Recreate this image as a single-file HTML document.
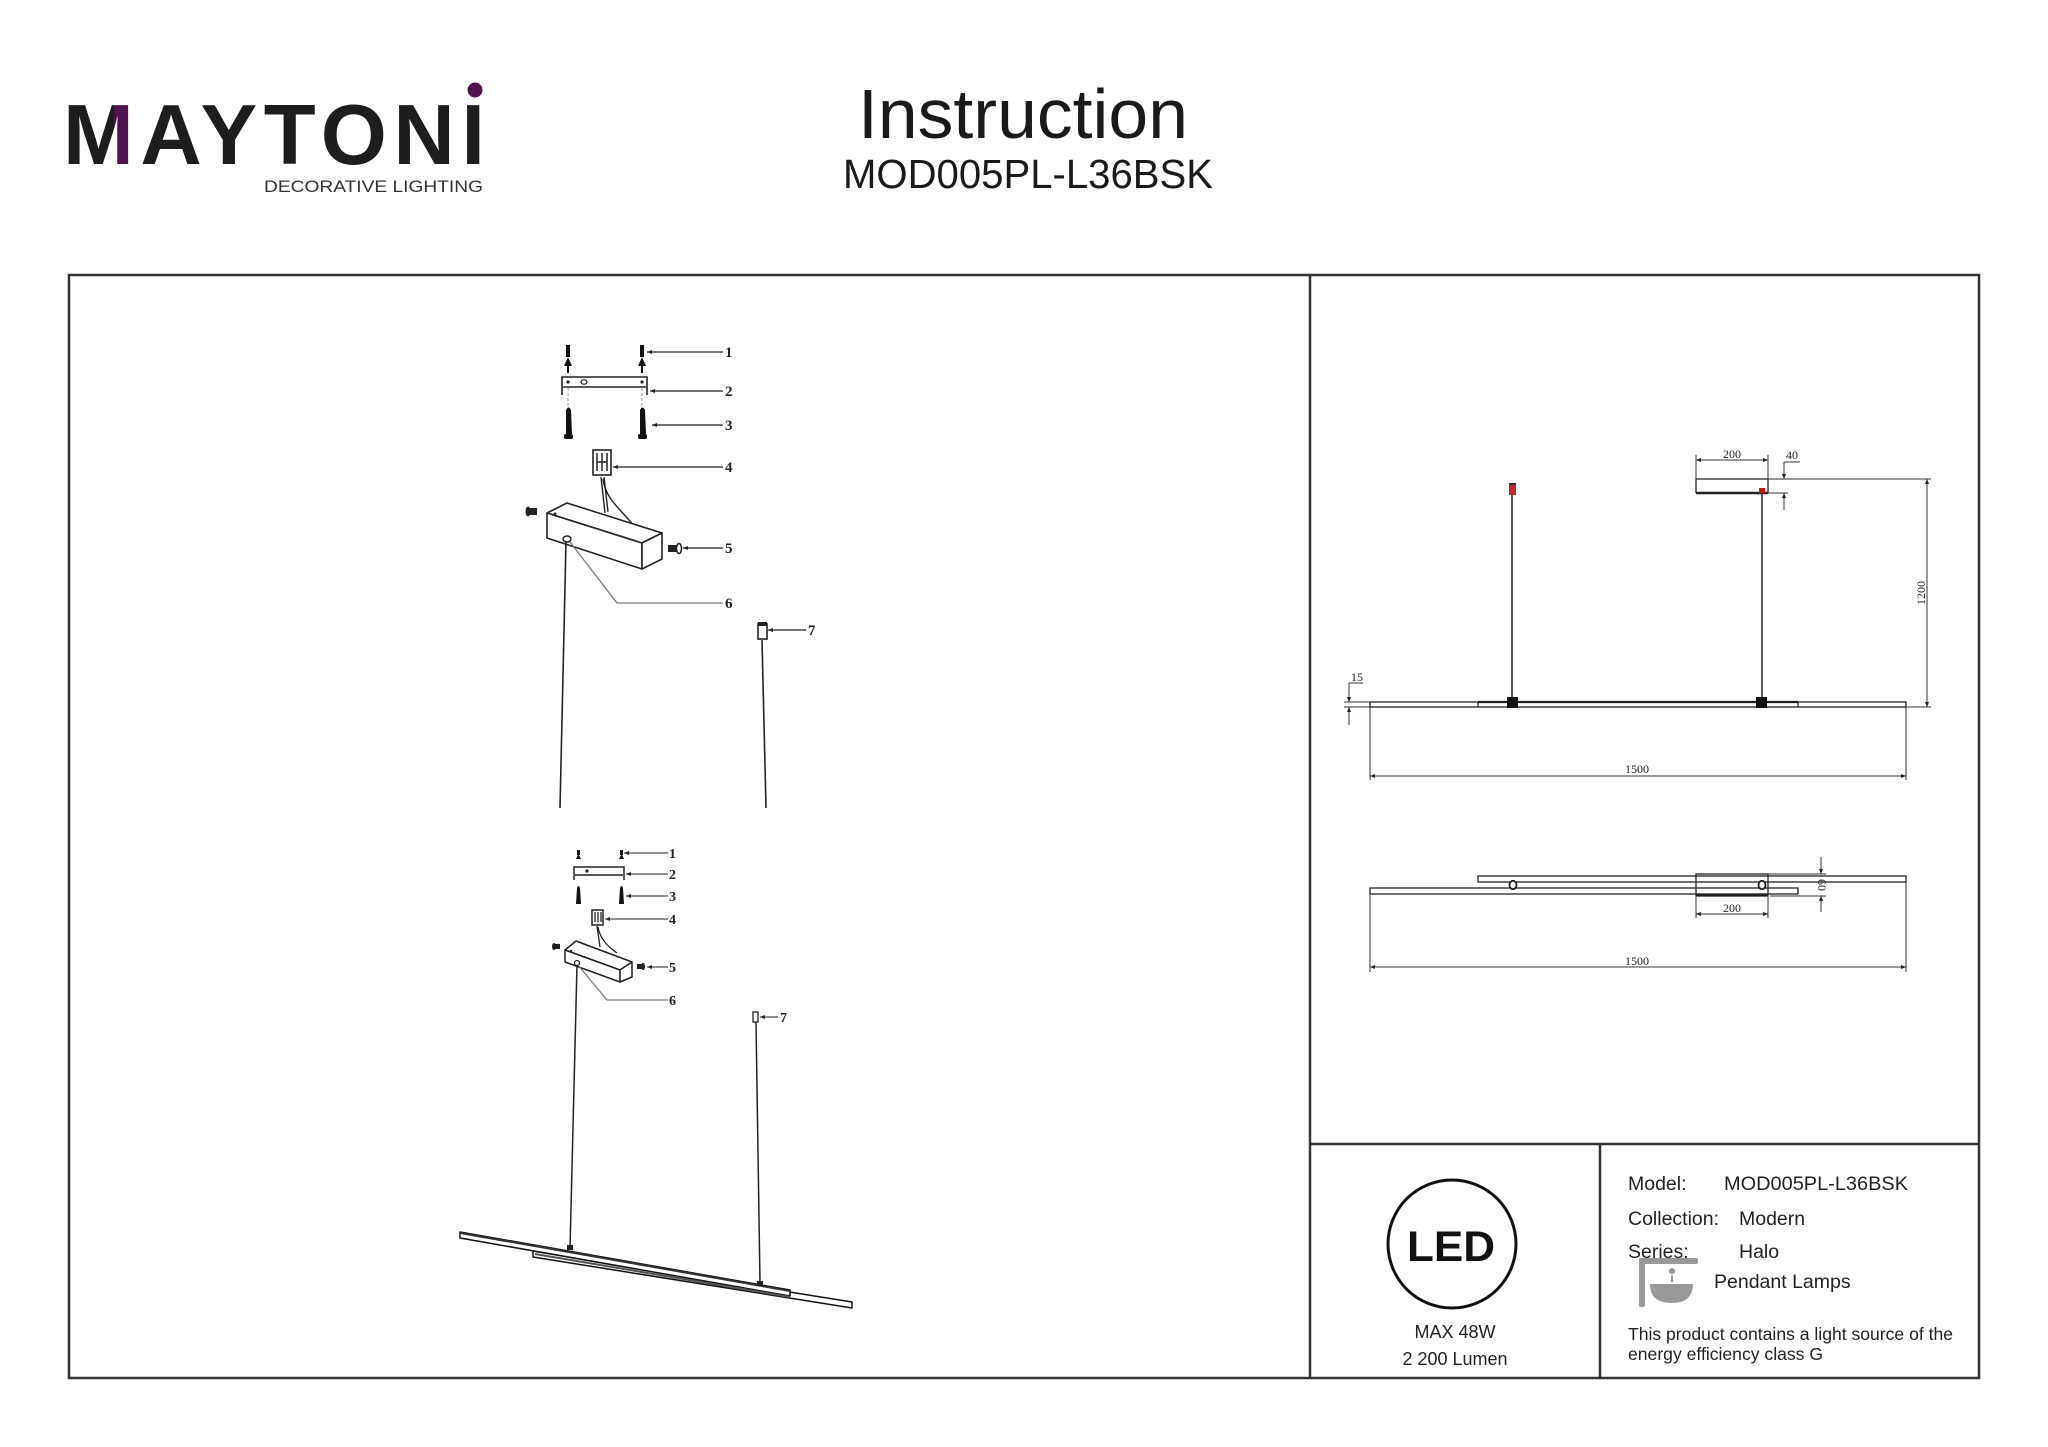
<!DOCTYPE html>
<html><head><meta charset="utf-8"><style>
html,body{margin:0;padding:0;background:#fff}
svg{display:block}
</style></head><body>
<svg width="2048" height="1447" viewBox="0 0 2048 1447" xmlns="http://www.w3.org/2000/svg">
<defs>
<marker id="ar" viewBox="0 0 10 10" refX="10" refY="5" markerWidth="8" markerHeight="5" orient="auto-start-reverse" markerUnits="userSpaceOnUse"><path d="M0,1 L10,5 L0,9 z" fill="#222"/></marker>
<marker id="ar2" viewBox="0 0 10 10" refX="10" refY="5" markerWidth="7" markerHeight="5" orient="auto-start-reverse" markerUnits="userSpaceOnUse"><path d="M0,1 L10,5 L0,9 z" fill="#222"/></marker>
<linearGradient id="mg" gradientUnits="userSpaceOnUse" x1="0" y1="0" x2="2048" y2="0">
<stop offset="0" stop-color="#1d1d1b"/><stop offset="0.0556" stop-color="#1d1d1b"/><stop offset="0.0556" stop-color="#4f1450"/><stop offset="0.0645" stop-color="#4f1450"/><stop offset="0.0645" stop-color="#1d1d1b"/><stop offset="1" stop-color="#1d1d1b"/>
</linearGradient>
</defs>
<rect width="2048" height="1447" fill="#fff"/>

<!-- Header -->
<text x="63" y="164" font-family="Liberation Sans, sans-serif" font-weight="bold" font-size="85" textLength="422" lengthAdjust="spacing" fill="url(#mg)">MAYTONI</text>
<circle cx="475" cy="90" r="7.5" fill="#4f1450"/>
<text x="264" y="192" font-family="Liberation Sans, sans-serif" font-size="16.5" textLength="219" lengthAdjust="spacingAndGlyphs" fill="#333">DECORATIVE LIGHTING</text>
<text x="858" y="138" font-family="Liberation Sans, sans-serif" font-size="70" textLength="330" lengthAdjust="spacingAndGlyphs" fill="#1a1a1a">Instruction</text>
<text x="843" y="188" font-family="Liberation Sans, sans-serif" font-size="41" textLength="370" lengthAdjust="spacingAndGlyphs" fill="#1a1a1a">MOD005PL-L36BSK</text>

<!-- Frame -->
<g stroke="#333" stroke-width="2.5" fill="none">
<rect x="69" y="275" width="1910" height="1103"/>
<line x1="1310" y1="275" x2="1310" y2="1378"/>
<line x1="1310" y1="1144" x2="1979" y2="1144"/>
<line x1="1600" y1="1144" x2="1600" y2="1378"/>
</g>

<!-- ===== Left upper exploded drawing ===== -->
<g fill="#111">
<rect x="566" y="345" width="4" height="12"/><path d="M564,366 L568,357 L572,366 Z"/><rect x="567" y="366" width="2" height="7"/>
<rect x="640" y="345" width="4" height="12"/><path d="M638,366 L642,357 L646,366 Z"/><rect x="641" y="366" width="2" height="7"/>
</g>
<g stroke="#222" stroke-width="1.6" fill="none">
<path d="M562,395 L562,377 L647,377 L647,395"/>
<line x1="563" y1="387" x2="646" y2="387"/>
</g>
<circle cx="568" cy="382" r="1.6" fill="#222"/><circle cx="642" cy="382" r="1.6" fill="#222"/>
<ellipse cx="584" cy="382" rx="3" ry="2.2" fill="none" stroke="#222" stroke-width="1.2"/>
<g stroke="#999" stroke-width="1" stroke-dasharray="3,2"><line x1="568" y1="388" x2="568" y2="407"/><line x1="642" y1="388" x2="642" y2="407"/></g>
<g fill="#111">
<path d="M566,410 Q568.5,405 571,410 L572,434 L566,434 Z"/><rect x="564" y="434" width="9" height="5" rx="2"/>
<path d="M640,410 Q642.5,405 645,410 L646,434 L640,434 Z"/><rect x="638" y="434" width="9" height="5" rx="2"/>
</g>
<rect x="593" y="450" width="18" height="25" fill="#fff" stroke="#222" stroke-width="1.6"/>
<g stroke="#222" stroke-width="1.5"><line x1="597" y1="453" x2="597" y2="471"/><line x1="602" y1="453" x2="602" y2="471"/><line x1="607" y1="453" x2="607" y2="471"/><line x1="597" y1="462" x2="607" y2="462"/></g>
<g stroke="#222" stroke-width="1.4" fill="none">
<path d="M601,477 L605,513"/><path d="M604,477 L608,512"/>
<path d="M603,479 C606,500 620,508 633,525"/>
</g>
<g stroke="#222" stroke-width="1.6" fill="#fff" stroke-linejoin="round">
<polygon points="547,513 567,503 662,533 642,543"/>
<polygon points="547,513 642,543 642,569 547,538"/>
<polygon points="642,543 662,533 662,559 642,569"/>
</g>
<circle cx="555" cy="514" r="1.5" fill="#222"/>
<ellipse cx="567" cy="539" rx="4" ry="3" fill="#fff" stroke="#222" stroke-width="1.5"/>
<g fill="#222"><rect x="528" y="508" width="9" height="7"/><ellipse cx="528" cy="511.5" rx="2.5" ry="5"/></g>
<g fill="#222"><rect x="668" y="545" width="9" height="7"/></g>
<ellipse cx="679" cy="548.5" rx="2.5" ry="5" fill="#fff" stroke="#222" stroke-width="1.5"/>
<path d="M570,542 L617,603 L723,603" stroke="#777" stroke-width="1.3" fill="none"/>
<g stroke="#222" stroke-width="1.6" fill="none">
<line x1="566" y1="542" x2="560" y2="808"/>
<line x1="762" y1="640" x2="766" y2="808"/>
</g>
<rect x="758" y="624" width="9" height="15" fill="#fff" stroke="#222" stroke-width="1.6"/>
<rect x="758" y="622" width="9" height="4" fill="#222"/>
<g stroke="#222" stroke-width="1.2">
<line x1="723" y1="352" x2="647" y2="352" marker-end="url(#ar)"/>
<line x1="723" y1="391" x2="650" y2="391" marker-end="url(#ar)"/>
<line x1="723" y1="425" x2="652" y2="425" marker-end="url(#ar)"/>
<line x1="723" y1="467" x2="613" y2="467" marker-end="url(#ar)"/>
<line x1="723" y1="548" x2="683" y2="548" marker-end="url(#ar)"/>
<line x1="806" y1="630" x2="768" y2="630" marker-end="url(#ar)"/>
</g>
<g font-family="Liberation Serif, serif" font-weight="bold" font-size="15" fill="#222">
<text x="725" y="357">1</text><text x="725" y="396">2</text><text x="725" y="430">3</text><text x="725" y="472">4</text><text x="725" y="553">5</text><text x="725" y="608">6</text><text x="808" y="635">7</text>
</g>

<!-- ===== Left lower drawing ===== -->
<g fill="#111">
<rect x="577" y="850" width="3" height="5"/><path d="M576,859 L578.5,854 L581,859 Z"/>
<rect x="620" y="850" width="3" height="5"/><path d="M619,859 L621.5,854 L624,859 Z"/>
</g>
<g stroke="#222" stroke-width="1.5" fill="none">
<path d="M574,880 L574,867 L624,867 L624,880"/>
<line x1="575" y1="875" x2="623" y2="875"/>
</g>
<circle cx="587" cy="871" r="1.6" fill="#222"/>
<g fill="#111">
<path d="M577,888 Q578.5,884 580,888 L581,904 L576,904 Z"/>
<path d="M620,888 Q621.5,884 623,888 L624,904 L619,904 Z"/>
</g>
<rect x="592" y="910" width="11" height="15" fill="#fff" stroke="#222" stroke-width="1.5"/>
<g stroke="#222" stroke-width="1.3"><line x1="595" y1="912" x2="595" y2="922"/><line x1="598" y1="912" x2="598" y2="922"/><line x1="601" y1="912" x2="601" y2="922"/></g>
<g stroke="#222" stroke-width="1.3" fill="none">
<path d="M597,926 L600,947"/><path d="M598,927 C600,940 610,948 617,953"/>
</g>
<g stroke="#222" stroke-width="1.5" fill="#fff" stroke-linejoin="round">
<polygon points="565,950 576,941 632,962 620,970"/>
<polygon points="565,950 620,970 620,982 565,962"/>
<polygon points="620,970 632,962 632,977 620,982"/>
</g>
<circle cx="571" cy="951" r="1.2" fill="#222"/>
<circle cx="577" cy="963" r="2.5" fill="#fff" stroke="#222" stroke-width="1.3"/>
<g fill="#222"><rect x="554" y="944" width="6" height="5"/><ellipse cx="554" cy="946.5" rx="2" ry="3.5"/></g>
<g fill="#222"><rect x="637" y="964" width="6" height="5"/><ellipse cx="643" cy="966.5" rx="2" ry="3.5"/></g>
<path d="M578,965 L607,1000 L668,1000" stroke="#777" stroke-width="1.2" fill="none"/>
<g stroke="#222" stroke-width="1.5" fill="none">
<line x1="577" y1="965" x2="570" y2="1249"/>
<line x1="756" y1="1022" x2="760" y2="1283"/>
</g>
<rect x="753" y="1012" width="5" height="10" fill="#fff" stroke="#222" stroke-width="1.3"/>
<g stroke="#222" stroke-width="1.1">
<line x1="668" y1="853" x2="624" y2="853" marker-end="url(#ar2)"/>
<line x1="668" y1="874" x2="626" y2="874" marker-end="url(#ar2)"/>
<line x1="668" y1="896" x2="626" y2="896" marker-end="url(#ar2)"/>
<line x1="668" y1="919" x2="605" y2="919" marker-end="url(#ar2)"/>
<line x1="668" y1="967" x2="647" y2="967" marker-end="url(#ar2)"/>
<line x1="778" y1="1017" x2="760" y2="1017" marker-end="url(#ar2)"/>
</g>
<g font-family="Liberation Serif, serif" font-weight="bold" font-size="14" fill="#222">
<text x="669" y="858">1</text><text x="669" y="879">2</text><text x="669" y="901">3</text><text x="669" y="924">4</text><text x="669" y="972">5</text><text x="669" y="1005">6</text><text x="780" y="1022">7</text>
</g>
<!-- lamp bars -->
<g stroke="#111" stroke-width="1.5" fill="#fff" stroke-linejoin="round">
<polygon points="533,1251 852,1302 852,1308 533,1257"/>
<polygon points="460,1232 790,1290 790,1296 460,1238"/>
</g>
<polygon points="460,1232 790,1290 790,1292 460,1234" fill="#333"/>
<line x1="535" y1="1254" x2="790" y2="1297" stroke="#555" stroke-width="2"/>
<rect x="567" y="1245" width="6" height="5" fill="#222"/>
<rect x="757" y="1281" width="6" height="5" fill="#222"/>

<!-- ===== Right top drawing ===== -->
<g stroke="#222" stroke-width="1.3" fill="none">
<rect x="1370" y="702" width="536" height="5" fill="#fff"/>
<line x1="1478" y1="702" x2="1478" y2="707"/>
<line x1="1798" y1="702" x2="1798" y2="707"/>
<line x1="1478" y1="702" x2="1798" y2="702" stroke-width="2.2"/>
<line x1="1512" y1="495" x2="1512" y2="698" stroke-width="1.5"/>
<line x1="1762" y1="493" x2="1762" y2="698" stroke-width="1.5"/>
<line x1="1696" y1="479" x2="1768" y2="479"/>
<line x1="1696" y1="479" x2="1696" y2="493"/>
<line x1="1768" y1="479" x2="1768" y2="493"/>
<line x1="1696" y1="493" x2="1768" y2="493" stroke-width="2.4"/>
</g>
<rect x="1509" y="483" width="7" height="12" fill="#c0282d"/>
<rect x="1509" y="483" width="7" height="2" fill="#333"/>
<rect x="1759" y="488" width="6" height="5" fill="#d01010"/>
<rect x="1507" y="697" width="11" height="11" fill="#111"/>
<rect x="1756" y="697" width="11" height="11" fill="#111"/>
<g stroke="#333" stroke-width="1">
<line x1="1696" y1="455" x2="1696" y2="479"/><line x1="1768" y1="455" x2="1768" y2="479"/>
<line x1="1696" y1="460" x2="1768" y2="460" marker-start="url(#ar2)" marker-end="url(#ar2)"/>
<line x1="1768" y1="479" x2="1931" y2="479"/>
<line x1="1768" y1="493" x2="1788" y2="493"/>
<line x1="1784" y1="462" x2="1800" y2="462"/>
<line x1="1784" y1="462" x2="1784" y2="479" marker-end="url(#ar2)"/>
<line x1="1784" y1="510" x2="1784" y2="493" marker-end="url(#ar2)"/>
<line x1="1927" y1="479" x2="1927" y2="707" marker-start="url(#ar2)" marker-end="url(#ar2)"/>
<line x1="1906" y1="707" x2="1931" y2="707"/>
<line x1="1344" y1="702" x2="1370" y2="702"/>
<line x1="1344" y1="707" x2="1370" y2="707"/>
<line x1="1349" y1="683" x2="1363" y2="683"/>
<line x1="1349" y1="683" x2="1349" y2="702" marker-end="url(#ar2)"/>
<line x1="1349" y1="725" x2="1349" y2="707" marker-end="url(#ar2)"/>
<line x1="1370" y1="707" x2="1370" y2="780"/><line x1="1906" y1="707" x2="1906" y2="780"/>
<line x1="1370" y1="776" x2="1906" y2="776" marker-start="url(#ar2)" marker-end="url(#ar2)"/>
</g>
<g font-family="Liberation Serif, serif" font-size="12" fill="#222">
<text x="1732" y="458" text-anchor="middle">200</text>
<text x="1786" y="459">40</text>
<text x="1351" y="681">15</text>
<text x="1637" y="773" text-anchor="middle">1500</text>
<text transform="translate(1925,593) rotate(-90)" text-anchor="middle">1200</text>
</g>

<!-- ===== Right lower drawing ===== -->
<g stroke="#222" stroke-width="1.3" fill="#fff">
<rect x="1478" y="876" width="428" height="6"/>
<rect x="1370" y="888" width="428" height="6"/>
<rect x="1696" y="874" width="72" height="22" fill="none"/>
</g>
<line x1="1696" y1="895" x2="1768" y2="895" stroke="#222" stroke-width="2"/>
<ellipse cx="1513" cy="885" rx="3.5" ry="4.2" fill="#fff" stroke="#222" stroke-width="1.8"/>
<ellipse cx="1762" cy="885" rx="3.5" ry="4.2" fill="#fff" stroke="#222" stroke-width="1.8"/>
<g stroke="#333" stroke-width="1">
<line x1="1768" y1="874" x2="1826" y2="874"/>
<line x1="1770" y1="896" x2="1826" y2="896"/>
<line x1="1821" y1="857" x2="1821" y2="874" marker-end="url(#ar2)"/>
<line x1="1821" y1="912" x2="1821" y2="896" marker-end="url(#ar2)"/>
<line x1="1696" y1="896" x2="1696" y2="918"/><line x1="1768" y1="896" x2="1768" y2="918"/>
<line x1="1696" y1="914" x2="1768" y2="914" marker-start="url(#ar2)" marker-end="url(#ar2)"/>
<line x1="1370" y1="895" x2="1370" y2="972"/><line x1="1906" y1="882" x2="1906" y2="972"/>
<line x1="1370" y1="967" x2="1906" y2="967" marker-start="url(#ar2)" marker-end="url(#ar2)"/>
</g>
<g font-family="Liberation Serif, serif" font-size="12" fill="#222">
<text x="1732" y="912" text-anchor="middle">200</text>
<text x="1637" y="965" text-anchor="middle">1500</text>
<text transform="translate(1818,885) rotate(90)" text-anchor="middle">60</text>
</g>

<!-- ===== Info panel ===== -->
<circle cx="1452" cy="1244" r="64" fill="none" stroke="#111" stroke-width="3"/>
<text x="1451" y="1261" text-anchor="middle" font-family="Liberation Sans, sans-serif" font-weight="bold" font-size="43" textLength="88" lengthAdjust="spacingAndGlyphs" fill="#111">LED</text>
<g font-family="Liberation Sans, sans-serif" font-size="18" fill="#222" text-anchor="middle">
<text x="1455" y="1338">MAX 48W</text>
<text x="1455" y="1365">2 200 Lumen</text>
</g>
<g font-family="Liberation Sans, sans-serif" font-size="19.5" fill="#222">
<text x="1628" y="1190">Model:</text>
<text x="1724" y="1190" textLength="184" lengthAdjust="spacingAndGlyphs">MOD005PL-L36BSK</text>
<text x="1628" y="1225">Collection:</text>
<text x="1739" y="1225">Modern</text>
<text x="1628" y="1258">Series:</text>
<text x="1739" y="1258">Halo</text>
</g>
<g fill="#999">
<rect x="1639" y="1258" width="6" height="49" rx="2"/>
<rect x="1639" y="1258" width="59" height="6" rx="2"/>
<circle cx="1672" cy="1271" r="3"/>
<rect x="1671" y="1275" width="2" height="7"/>
<path d="M1650,1284 L1693,1284 Q1693,1303 1671.5,1303 Q1650,1303 1650,1284 Z"/>
</g>
<text x="1714" y="1288" font-family="Liberation Sans, sans-serif" font-size="19.5" fill="#222">Pendant Lamps</text>
<g font-family="Liberation Sans, sans-serif" font-size="17.5" fill="#222">
<text x="1628" y="1340" textLength="325" lengthAdjust="spacingAndGlyphs">This product contains a light source of the</text>
<text x="1628" y="1360" textLength="195" lengthAdjust="spacingAndGlyphs">energy efficiency class G</text>
</g>
</svg>
</body></html>
